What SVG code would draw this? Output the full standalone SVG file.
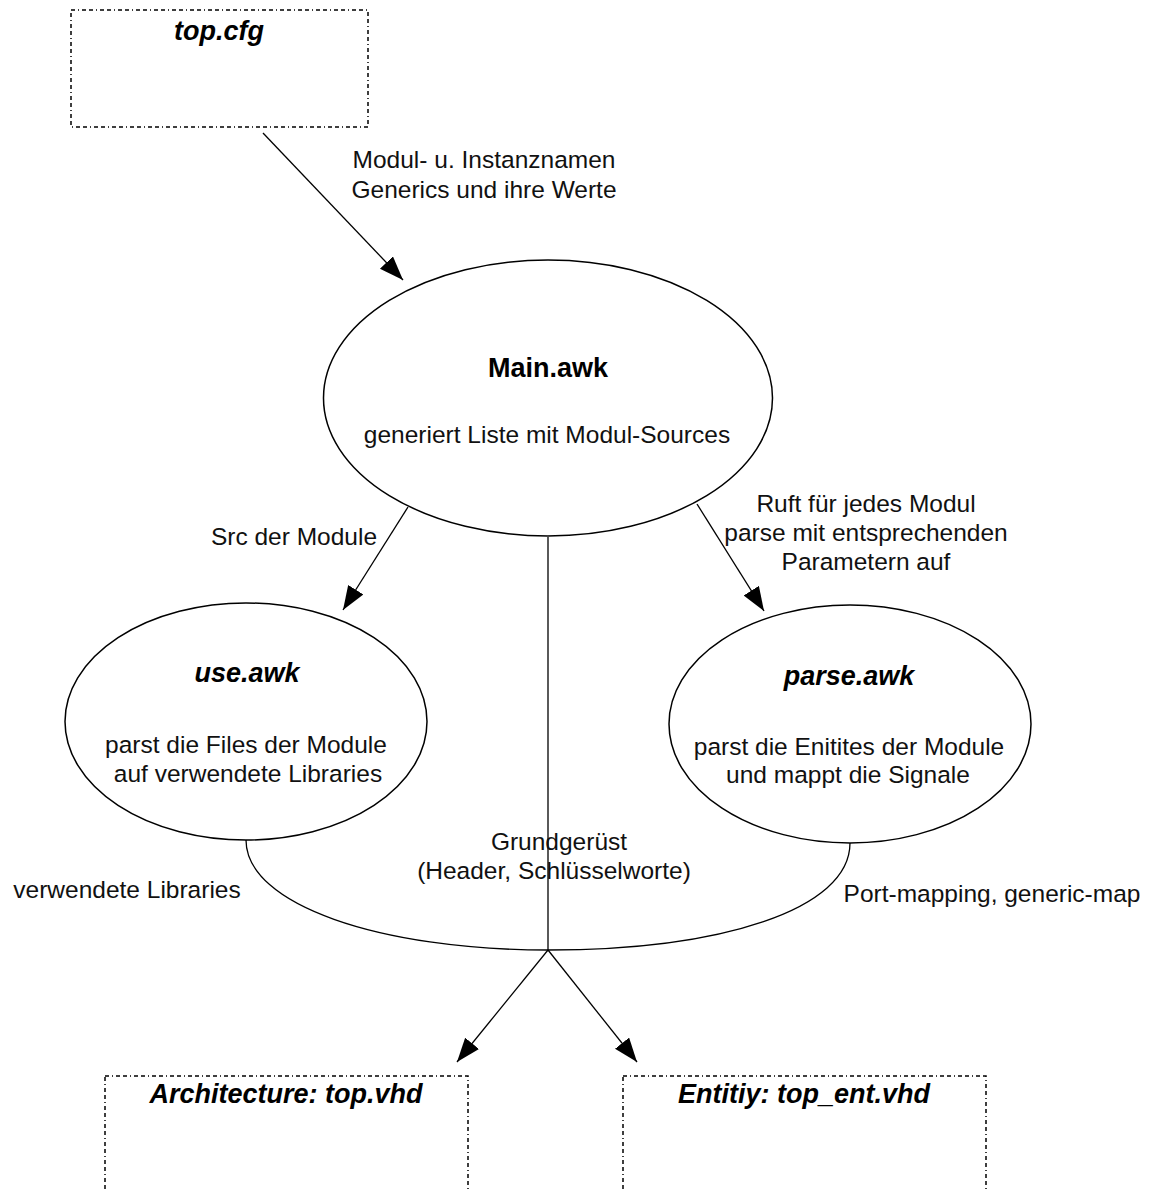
<svg xmlns="http://www.w3.org/2000/svg" width="1151" height="1191" viewBox="0 0 1151 1191">
<defs>
<marker id="arr" markerUnits="userSpaceOnUse" markerWidth="26" markerHeight="20" refX="24" refY="9" orient="auto">
<path d="M0,0 L24,9 L0,18 Z" fill="#000"/>
</marker>
<style>
.box{fill:none;stroke:#000;stroke-width:1.5;stroke-dasharray:4 3 1 3 4 3}
.ell{fill:#fff;stroke:#000;stroke-width:1.5}
.ln{fill:none;stroke:#000;stroke-width:1.3}
.t{font-family:"Liberation Sans",Arial,sans-serif;font-size:24.5px;fill:#111;text-anchor:middle}
.b{font-family:"Liberation Sans",Arial,sans-serif;font-size:27px;font-weight:bold;fill:#000;text-anchor:middle}
.bi{font-style:italic}
</style>
</defs>
<rect width="1151" height="1191" fill="#fff"/>
<g id="connectors">
<line class="ln" x1="263" y1="133" x2="403" y2="280" marker-end="url(#arr)"/>
<line class="ln" x1="408" y1="507" x2="343" y2="610" marker-end="url(#arr)"/>
<line class="ln" x1="697" y1="504" x2="764" y2="611" marker-end="url(#arr)"/>
<line class="ln" x1="548" y1="537" x2="548" y2="950"/>
<path class="ln" d="M246,840 C246,905 380,950 548,950"/>
<path class="ln" d="M850,843 C850,910 720,950 548,950"/>
<line class="ln" x1="548" y1="950" x2="457" y2="1062" marker-end="url(#arr)"/>
<line class="ln" x1="548" y1="950" x2="637" y2="1062" marker-end="url(#arr)"/>
<text class="t" x="484" y="168">Modul- u. Instanznamen</text>
<text class="t" x="484" y="198">Generics und ihre Werte</text>
<text class="t" x="294" y="545">Src der Module</text>
<text class="t" x="866" y="512">Ruft für jedes Modul</text>
<text class="t" x="866" y="541">parse mit entsprechenden</text>
<text class="t" x="866" y="570">Parametern auf</text>
<text class="t" x="127" y="898">verwendete Libraries</text>
<text class="t" x="559" y="850">Grundgerüst</text>
<text class="t" x="554" y="879">(Header, Schlüsselworte)</text>
<text class="t" x="992" y="902">Port-mapping, generic-map</text>
</g>
<g id="top_cfg">
<rect class="box" x="71" y="10" width="297" height="117"/>
<text class="b bi" x="219" y="40">top.cfg</text>
</g>
<g id="main_awk">
<ellipse class="ell" cx="548" cy="398" rx="224.5" ry="138"/>
<text class="b" x="548" y="377">Main.awk</text>
<text class="t" x="547" y="443">generiert Liste mit Modul-Sources</text>
</g>
<g id="use_awk">
<ellipse class="ell" cx="246" cy="721.5" rx="181" ry="118.5"/>
<text class="b bi" x="247" y="682">use.awk</text>
<text class="t" x="246" y="753">parst die Files der Module</text>
<text class="t" x="248" y="782">auf verwendete Libraries</text>
</g>
<g id="parse_awk">
<ellipse class="ell" cx="850" cy="724" rx="181" ry="119"/>
<text class="b bi" x="849" y="685">parse.awk</text>
<text class="t" x="849" y="755">parst die Enitites der Module</text>
<text class="t" x="848" y="783">und mappt die Signale</text>
</g>
<g id="architecture">
<rect class="box" x="105" y="1076" width="363" height="140"/>
<text class="b bi" x="286" y="1103">Architecture: top.vhd</text>
</g>
<g id="entity">
<rect class="box" x="623" y="1076" width="363" height="140"/>
<text class="b bi" x="804" y="1103">Entitiy: top_ent.vhd</text>
</g>
</svg>
